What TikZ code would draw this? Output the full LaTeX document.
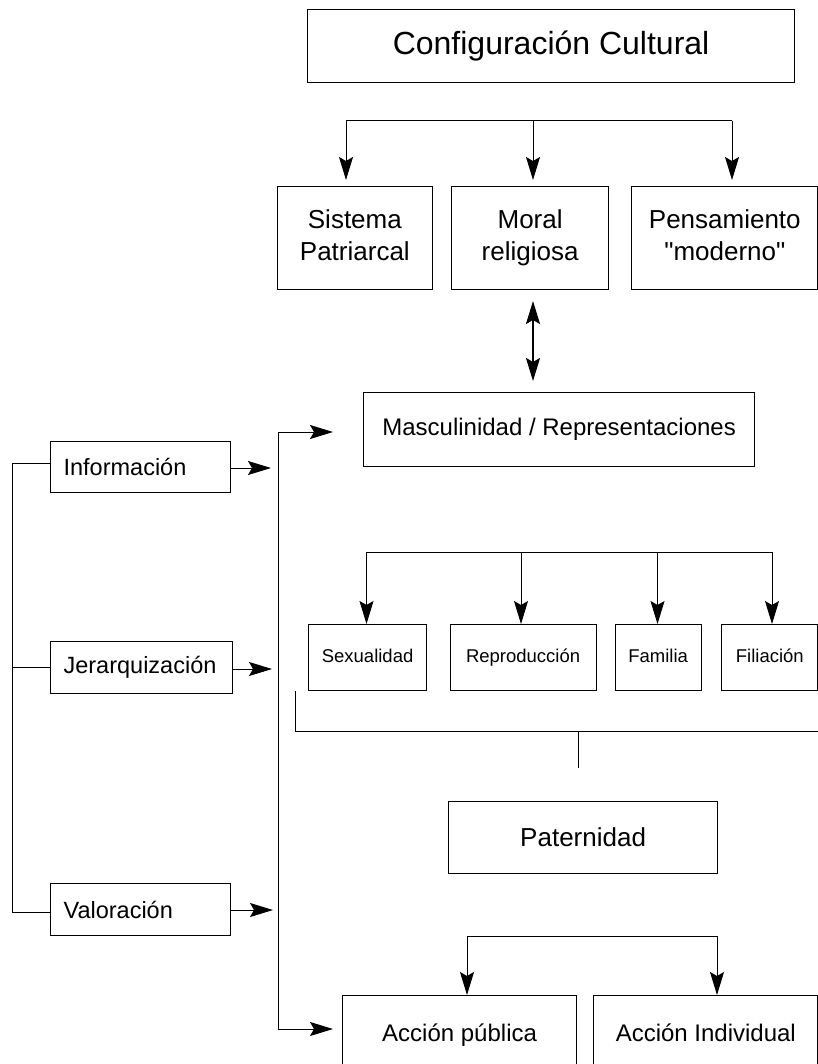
\documentclass[tikz,border=0pt]{standalone}
\usepackage{fontspec}
\setmainfont{Liberation Sans}
\font\rawq="Liberation Sans" at 26pt
\usetikzlibrary{arrows.meta}
\tikzset{
  box/.style={draw, line width=1.2pt, inner sep=0pt, align=center, anchor=north west},
  lbox/.style={draw, line width=1.2pt, inner xsep=13pt, inner ysep=0pt, align=left, anchor=north west, font=\fontsize{23.5}{27}\selectfont},
  ln/.style={line width=1pt},
  arr/.style={line width=1pt, -{Stealth[length=23pt, width=14pt, inset=4pt]}},
  darr/.style={line width=2pt, {Stealth[length=23pt, width=14pt, inset=4pt]}-{Stealth[length=23pt, width=14pt, inset=4pt]}},
  f32/.style={font=\fontsize{32}{38}\selectfont},
  f26/.style={font=\fontsize{26}{32}\selectfont},
  f24/.style={font=\fontsize{24}{28}\selectfont},
  fsm/.style={font=\fontsize{18.5}{22}\selectfont, text height=13.5pt, text depth=4pt}
}
\newcommand{\bx}[7]{% name, style, left, top, right, bottom, text
  \node[box, #2, minimum width={#5-#3}, minimum height={#6-#4}] (#1) at (#3,#4) {#7};}
\begin{document}
\begin{tikzpicture}[x=1pt,y=-1pt]
\useasboundingbox (0,0) rectangle (818,1064);
% boxes
\bx{cc}{f32}{307}{9}{794}{82}{\raisebox{-8pt}{Configuración Cultural}}
\bx{sp}{f26}{277}{186}{431.5}{289}{\strut Sistema\\\strut Patriarcal}
\bx{mr}{f26}{451}{186}{608}{289}{\strut Moral\\\strut religiosa}
\bx{pm}{f26}{631}{186}{817.4}{289}{\strut Pensamiento\\\strut {\rawq"}moderno{\rawq"}}
\bx{ma}{f24}{363}{392}{754}{466}{Masculinidad / Representaciones}
\bx{sex}{fsm}{308}{624}{426}{690}{Sexualidad}
\bx{rep}{fsm}{449.5}{624}{595.5}{690}{Reproducción}
\bx{fam}{fsm}{614.5}{624}{700.5}{690}{Familia}
\bx{fil}{fsm}{721}{624}{817.4}{690}{Filiación}
\bx{pat}{font=\fontsize{26}{30}\selectfont}{448}{801}{717}{873}{Paternidad}
\bx{ap}{f24}{342}{995}{576}{1080}{\raisebox{11pt}{Acción pública}}
\bx{ai}{f24}{593}{995}{817.4}{1080}{\raisebox{11pt}{Acción Individual}}
% left boxes
\node[lbox, minimum width=180pt, minimum height=51pt, text width=154pt] (inf) at (50,441) {Información};
\node[lbox, minimum width=182pt, minimum height=52pt, text width=156pt] (jer) at (50,641) {Jerarquización};
\node[lbox, minimum width=180pt, minimum height=52pt, text width=154pt] (val) at (50,883) {Valoración};
% top branching
\coordinate (t1) at (346,121);
\coordinate (t2) at (533,121);
\coordinate (t3) at (732,121);
\draw[ln] (t1) -- (t3);
\draw[arr] (t1) -- (346,180);
\draw[arr] (t2) -- (533,180);
\draw[arr] (t3) -- (732,180);
% double arrow
\coordinate (d1) at (533,301);
\coordinate (d2) at (533,381);
\draw[darr] (d1) -- (d2);
% left bracket
\coordinate (b1) at (12,463);
\coordinate (b2) at (12,667);
\coordinate (b3) at (12,912);
\draw[ln] (inf.west |- b1) -- (b1) -- (b3) -- (val.west |- b3);
\draw[ln] (b2) -- (jer.west |- b2);
% small arrows
\coordinate (s1) at (271,468);
\coordinate (s2) at (272,669);
\coordinate (s3) at (273,910);
\draw[arr] (inf.east |- s1) -- (s1);
\draw[arr] (jer.east |- s2) -- (s2);
\draw[arr] (val.east |- s3) -- (s3);
% vertical collector
\coordinate (v1) at (278,432);
\coordinate (v2) at (278,1029);
\draw[ln] (v1) -- (v2);
\draw[arr] (v1) -- (333,432);
\draw[arr] (v2) -- (333,1029);
% sub branching
\coordinate (u1) at (366.5,552);
\coordinate (u2) at (521,552);
\coordinate (u3) at (657.5,552);
\coordinate (u4) at (772,552);
\draw[ln] (u1) -- (u4);
\draw[arr] (u1) -- (sex.north -| u1);
\draw[arr] (u2) -- (rep.north -| u2);
\draw[arr] (u3) -- (fam.north -| u3);
\draw[arr] (u4) -- (fil.north -| u4);
% bracket below
\coordinate (w1) at (295,691);
\coordinate (w2) at (295,731);
\coordinate (w3) at (818,731);
\coordinate (w4) at (578,731);
\coordinate (w5) at (578,768);
\draw[ln] (w1) -- (w2) -- (w3);
\draw[ln] (w4) -- (w5);
% accion branching
\coordinate (a1) at (467,936);
\coordinate (a2) at (717,936);
\draw[ln] (a1) -- (a2);
\draw[arr] (a1) -- (ap.north -| a1);
\draw[arr] (a2) -- (ai.north -| a2);
\end{tikzpicture}
\end{document}
